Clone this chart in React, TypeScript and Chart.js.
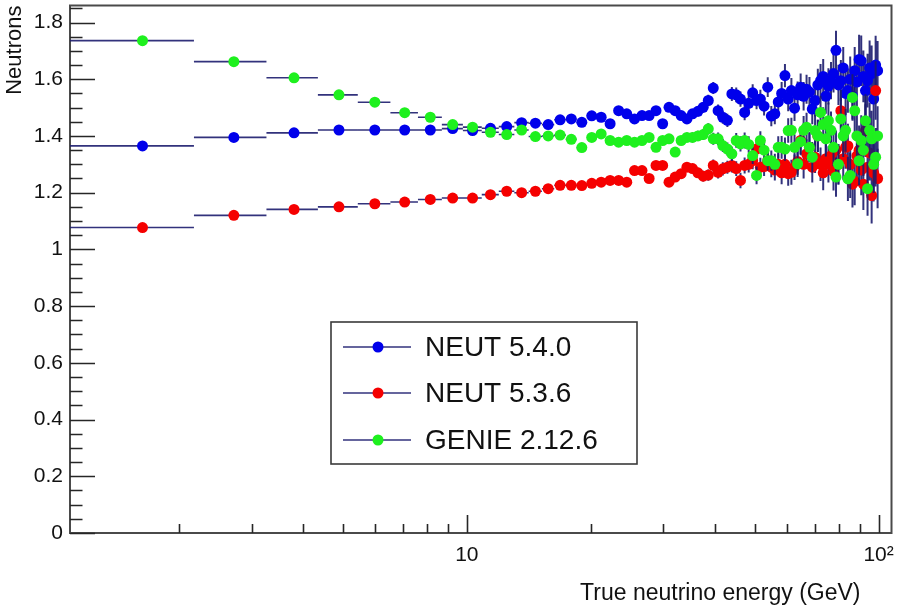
import React, { useEffect, useRef } from 'react';
import { Chart, registerables } from 'chart.js';

Chart.register(...registerables);

// Histogram binning: equal-width bins in true neutrino energy (GeV)
const BIN_WIDTH = 1.087;
const binNumbers = Array.from({ length: 91 }, (_, i) => i + 1);

// Mean neutron multiplicity per bin
const neut540 = [
  1.365, 1.395, 1.411, 1.421, 1.421, 1.421, 1.421, 1.426, 1.419, 1.427,
  1.433, 1.447, 1.445, 1.440, 1.457, 1.460, 1.448, 1.471, 1.466, 1.443,
  1.489, 1.478, 1.460, 1.472, 1.472, 1.489, 1.443, 1.501, 1.489, 1.472,
  1.460, 1.478, 1.487, 1.501, 1.525, 1.569, 1.489, 1.466, 1.455, 1.548,
  1.545, 1.530, 1.483, 1.515, 1.552, 1.525, 1.530, 1.505, 1.572, 1.470,
  1.478, 1.520, 1.550, 1.613, 1.530, 1.560, 1.498, 1.545, 1.572, 1.540,
  1.565, 1.555, 1.495, 1.525, 1.580, 1.595, 1.610, 1.540, 1.575, 1.595,
  1.620, 1.702, 1.580, 1.595, 1.640, 1.550, 1.560, 1.600, 1.540, 1.630,
  1.590, 1.670, 1.665, 1.610, 1.560, 1.595, 1.640, 1.620, 1.530, 1.650, 1.630,
];

const neut536 = [
  1.077, 1.120, 1.141, 1.150, 1.161, 1.167, 1.176, 1.181, 1.181, 1.193,
  1.205, 1.200, 1.205, 1.214, 1.226, 1.226, 1.225, 1.233, 1.237, 1.243,
  1.243, 1.237, 1.278, 1.278, 1.250, 1.296, 1.296, 1.237, 1.255, 1.267,
  1.290, 1.285, 1.270, 1.258, 1.262, 1.296, 1.272, 1.284, 1.290, 1.296,
  1.285, 1.243, 1.296, 1.300, 1.313, 1.354, 1.290, 1.292, 1.313, 1.290,
  1.280, 1.300, 1.270, 1.300, 1.267, 1.272, 1.290, 1.310, 1.384, 1.300,
  1.337, 1.360, 1.290, 1.325, 1.400, 1.300, 1.270, 1.320, 1.300, 1.330,
  1.275, 1.350, 1.300, 1.489, 1.320, 1.360, 1.365, 1.300, 1.230, 1.240,
  1.330, 1.350, 1.280, 1.230, 1.419, 1.290, 1.340, 1.190, 1.270, 1.560, 1.250,
];

const genie2126 = [
  1.736, 1.662, 1.605, 1.545, 1.519, 1.482, 1.466, 1.440, 1.431, 1.413,
  1.405, 1.421, 1.398, 1.400, 1.403, 1.388, 1.359, 1.395, 1.407, 1.384,
  1.378, 1.384, 1.378, 1.384, 1.395, 1.360, 1.384, 1.390, 1.343, 1.384,
  1.395, 1.395, 1.400, 1.405, 1.425, 1.390, 1.390, 1.366, 1.354, 1.337,
  1.384, 1.372, 1.384, 1.370, 1.331, 1.261, 1.384, 1.350, 1.313, 1.313,
  1.300, 1.360, 1.360, 1.354, 1.419, 1.420, 1.360, 1.302, 1.380, 1.420,
  1.431, 1.360, 1.325, 1.419, 1.400, 1.483, 1.440, 1.390, 1.454, 1.420,
  1.360, 1.255, 1.300, 1.460, 1.400, 1.420, 1.249, 1.261, 1.536, 1.489,
  1.400, 1.313, 1.384, 1.350, 1.454, 1.214, 1.420, 1.390, 1.300, 1.325, 1.400,
];

// Statistical uncertainty per bin
const binErrors = [
  0.002, 0.002, 0.002, 0.003, 0.003, 0.003, 0.003, 0.004, 0.004, 0.004,
  0.005, 0.005, 0.005, 0.006, 0.006, 0.007, 0.007, 0.008, 0.008, 0.009,
  0.009, 0.010, 0.011, 0.011, 0.012, 0.013, 0.013, 0.014, 0.015, 0.016,
  0.016, 0.017, 0.018, 0.019, 0.020, 0.021, 0.022, 0.023, 0.023, 0.025,
  0.026, 0.027, 0.028, 0.029, 0.030, 0.031, 0.033, 0.033, 0.035, 0.036,
  0.037, 0.039, 0.040, 0.041, 0.043, 0.044, 0.045, 0.047, 0.048, 0.050,
  0.051, 0.053, 0.054, 0.056, 0.057, 0.059, 0.061, 0.062, 0.064, 0.066,
  0.067, 0.069, 0.071, 0.073, 0.074, 0.076, 0.078, 0.080, 0.082, 0.084,
  0.085, 0.087, 0.089, 0.091, 0.093, 0.095, 0.097, 0.099, 0.101, 0.103, 0.105,
];

const seriesLabels = ['NEUT 5.4.0', 'NEUT 5.3.6', 'GENIE 2.12.6'];
const seriesValues = [neut540, neut536, genie2126];
const seriesColors = ['rgb(0,0,235)', 'rgb(245,0,0)', 'rgb(30,240,30)'];

const yTickValues = [0, 0.2, 0.4, 0.6, 0.8, 1, 1.2, 1.4, 1.6, 1.8];
const xMajorTicks = [10, 100];
const xMajorLabels = ['10', '10²'];
const xMinorTicks = [2, 3, 4, 5, 6, 7, 8, 9, 20, 30, 40, 50, 60, 70, 80, 90];

const X_TITLE = 'True neutrino energy (GeV)';
const Y_TITLE = 'Neutrons';

const X_MIN = 1.087;
const X_MAX = 107.5;
const Y_MAX = 1.86;

const FONT = '"Liberation Sans", Arial, Helvetica, sans-serif';
const ERR_COLOR = 'rgba(28,28,110,0.9)';
const AXIS_COLOR = '#4a4a4a';
const MARKER_RADIUS = 5.5;

const binLow = (i: number) => binNumbers[i] * BIN_WIDTH;
const binCenter = (i: number) => (binNumbers[i] + 0.5) * BIN_WIDTH;

const axesPlugin = {
  id: 'rootAxes',
  beforeDatasetsDraw(chart: any) {
    const { ctx, chartArea: a, scales } = chart;
    const x = scales.x;
    const y = scales.y;
    ctx.save();
    ctx.strokeStyle = AXIS_COLOR;
    ctx.lineWidth = 2;
    ctx.strokeRect(a.left, a.top, a.right - a.left, a.bottom - a.top);

    ctx.strokeStyle = '#262626';
    ctx.lineWidth = 1.6;
    ctx.beginPath();
    for (const v of yTickValues) {
      const py = Math.round(y.getPixelForValue(v)) + 0.5;
      ctx.moveTo(a.left, py);
      ctx.lineTo(a.left + 25, py);
    }
    for (let k = 1; k * 0.05 < Y_MAX; k++) {
      if (k % 4 === 0) continue;
      const py = Math.round(y.getPixelForValue(k * 0.05)) + 0.5;
      ctx.moveTo(a.left, py);
      ctx.lineTo(a.left + 12.5, py);
    }
    for (const v of xMajorTicks) {
      const px = Math.round(x.getPixelForValue(v)) + 0.5;
      ctx.moveTo(px, a.bottom);
      ctx.lineTo(px, a.bottom - 18);
    }
    for (const v of xMinorTicks) {
      const px = Math.round(x.getPixelForValue(v)) + 0.5;
      ctx.moveTo(px, a.bottom);
      ctx.lineTo(px, a.bottom - 9);
    }
    ctx.stroke();

    ctx.fillStyle = '#111';
    ctx.font = `23px ${FONT}`;
    ctx.textAlign = 'right';
    ctx.textBaseline = 'alphabetic';
    ctx.fillText(X_TITLE, a.right - 31, 600);

    ctx.font = `22px ${FONT}`;
    ctx.save();
    ctx.translate(21, a.top);
    ctx.rotate(-Math.PI / 2);
    ctx.textAlign = 'right';
    ctx.fillText(Y_TITLE, 0, 0);
    ctx.restore();
    ctx.restore();
  },
};

const errorBarPlugin = {
  id: 'binErrorBars',
  beforeDatasetDraw(chart: any, args: any) {
    const values = seriesValues[args.index];
    if (!values) return;
    const { ctx, chartArea: a, scales } = chart;
    const x = scales.x;
    const y = scales.y;
    ctx.save();
    ctx.beginPath();
    ctx.rect(a.left, a.top, a.right - a.left, a.bottom - a.top);
    ctx.clip();
    ctx.strokeStyle = ERR_COLOR;

    ctx.lineWidth = 1.6;
    ctx.beginPath();
    values.forEach((v, i) => {
      const py = y.getPixelForValue(v);
      ctx.moveTo(x.getPixelForValue(binLow(i)), py);
      ctx.lineTo(x.getPixelForValue(binLow(i) + BIN_WIDTH), py);
    });
    ctx.stroke();

    ctx.lineWidth = 2;
    ctx.beginPath();
    values.forEach((v, i) => {
      const px = x.getPixelForValue(binCenter(i));
      ctx.moveTo(px, y.getPixelForValue(v - binErrors[i]));
      ctx.lineTo(px, y.getPixelForValue(v + binErrors[i]));
    });
    ctx.stroke();
    ctx.restore();
  },
};

const legendPlugin = {
  id: 'boxLegend',
  afterDraw(chart: any) {
    const { ctx } = chart;
    const box = { left: 331, top: 322, right: 637, bottom: 464 };
    ctx.save();
    ctx.fillStyle = '#fff';
    ctx.fillRect(box.left, box.top, box.right - box.left, box.bottom - box.top);
    ctx.strokeStyle = '#3a3a3a';
    ctx.lineWidth = 1.6;
    ctx.strokeRect(box.left, box.top, box.right - box.left, box.bottom - box.top);
    const rows = [347, 393, 440];
    seriesLabels.forEach((label, i) => {
      const cy = rows[i];
      ctx.strokeStyle = ERR_COLOR;
      ctx.lineWidth = 1.6;
      ctx.beginPath();
      ctx.moveTo(343, cy);
      ctx.lineTo(411, cy);
      ctx.stroke();
      ctx.fillStyle = seriesColors[i];
      ctx.beginPath();
      ctx.arc(378, cy, MARKER_RADIUS, 0, Math.PI * 2);
      ctx.fill();
      ctx.fillStyle = '#111';
      ctx.font = `28px ${FONT}`;
      ctx.textAlign = 'left';
      ctx.textBaseline = 'middle';
      ctx.fillText(label, 425, cy + 1);
    });
    ctx.restore();
  },
};

export default function App() {
  const ref = useRef<HTMLCanvasElement>(null);

  useEffect(() => {
    const canvas = ref.current;
    if (!canvas) return;
    const chart = new Chart(canvas, {
      type: 'scatter',
      data: {
        datasets: seriesLabels.map((label, s) => ({
          label,
          data: seriesValues[s].map((v, i) => ({ x: binCenter(i), y: v })),
          backgroundColor: seriesColors[s],
          borderColor: seriesColors[s],
          pointRadius: MARKER_RADIUS,
          pointHoverRadius: MARKER_RADIUS,
          pointBorderWidth: 0,
          showLine: false,
          order: 3 - s,
        })),
      },
      options: {
        responsive: false,
        animation: false,
        events: [],
        layout: { padding: { top: 5, right: 4, left: 0, bottom: 0 } },
        plugins: { legend: { display: false }, tooltip: { enabled: false } },
        scales: {
          x: {
            type: 'logarithmic',
            min: X_MIN,
            max: X_MAX,
            grid: { display: false, drawTicks: false },
            border: { display: false },
            afterBuildTicks: (s: any) => {
              s.ticks = xMajorTicks.map((v) => ({ value: v }));
            },
            afterFit: (s: any) => {
              s.height = 72;
              s.paddingLeft = 0;
              s.paddingRight = 0;
            },
            ticks: {
              autoSkip: false,
              maxRotation: 0,
              padding: 10,
              color: '#111',
              font: { family: FONT, size: 21 },
              callback: (v: any) => {
                const idx = xMajorTicks.indexOf(Number(v));
                return idx >= 0 ? xMajorLabels[idx] : '';
              },
            },
          },
          y: {
            type: 'linear',
            min: 0,
            max: Y_MAX,
            grid: { display: false, drawTicks: false },
            border: { display: false },
            afterBuildTicks: (s: any) => {
              s.ticks = yTickValues.map((v) => ({ value: v }));
            },
            afterFit: (s: any) => {
              s.width = 70;
              s.paddingTop = 0;
              s.paddingBottom = 0;
            },
            ticks: {
              padding: 7,
              color: '#111',
              font: { family: FONT, size: 21 },
              callback: (v: any) => String(Math.round(Number(v) * 10) / 10),
            },
          },
        },
      },
      plugins: [axesPlugin, errorBarPlugin, legendPlugin],
    } as any);
    return () => chart.destroy();
  }, []);

  return (
    <div style={{ position: 'fixed', left: 0, top: 0, width: 897, height: 605, background: '#fff' }}>
      <canvas ref={ref} width={897} height={605} style={{ display: 'block' }} />
    </div>
  );
}
